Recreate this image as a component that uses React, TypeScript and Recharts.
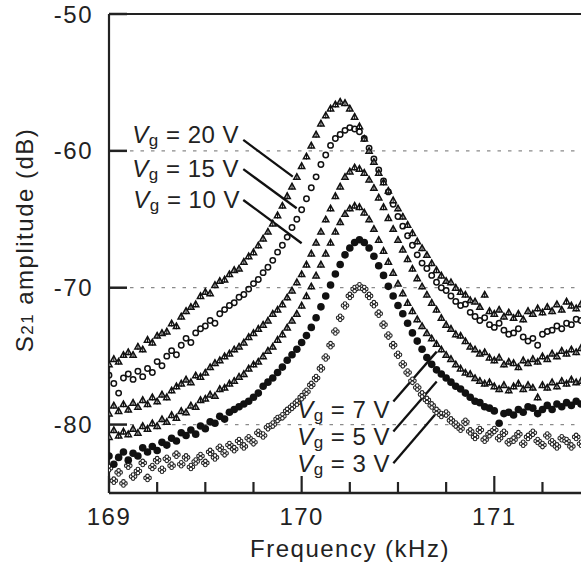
import React from 'react';
import {
  ScatterChart,
  Scatter,
  XAxis,
  YAxis,
  CartesianGrid,
  ReferenceLine,
  ReferenceDot,
  Label,
} from 'recharts';

// sweep frequencies (kHz)
const FREQ = [
  169.0, 169.025, 169.05, 169.075, 169.1, 169.125, 169.15, 169.175, 169.2, 169.225,
  169.25, 169.275, 169.3, 169.325, 169.35, 169.375, 169.4, 169.425, 169.45, 169.475,
  169.5, 169.525, 169.55, 169.575, 169.6, 169.625, 169.65, 169.675, 169.7, 169.725,
  169.75, 169.775, 169.8, 169.825, 169.85, 169.875, 169.9, 169.925, 169.95, 169.975,
  170.0, 170.025, 170.05, 170.075, 170.1, 170.125, 170.15, 170.175, 170.2, 170.225,
  170.25, 170.275, 170.3, 170.325, 170.35, 170.375, 170.4, 170.425, 170.45, 170.475,
  170.5, 170.525, 170.55, 170.575, 170.6, 170.625, 170.65, 170.675, 170.7, 170.725,
  170.75, 170.775, 170.8, 170.825, 170.85, 170.875, 170.9, 170.925, 170.95, 170.975,
  171.0, 171.025, 171.05, 171.075, 171.1, 171.125, 171.15, 171.175, 171.2, 171.225,
  171.25, 171.275, 171.3, 171.325, 171.35, 171.375, 171.4, 171.425, 171.45,
];

// S21 amplitude (dB) for each gate voltage
const VG20 = [
  -75.6, -75.2, -75.4, -74.9, -74.7, -74.9, -74.3, -74.5, -73.8, -74.0,
  -73.5, -73.3, -73.2, -72.6, -72.8, -72.1, -71.7, -71.4, -71.2, -70.6,
  -70.3, -70.4, -69.8, -69.5, -69.4, -69.0, -68.7, -68.6, -68.1, -67.7,
  -67.4, -66.9, -66.4, -65.9, -65.3, -64.7, -64.0, -63.3, -62.6, -61.9,
  -61.1, -60.4, -59.6, -58.8, -58.0, -57.4, -56.9, -56.6, -56.4, -56.5,
  -56.9, -57.5, -58.2, -59.1, -60.0, -60.8, -61.6, -62.3, -62.9, -63.6,
  -64.2, -64.8, -65.4, -66.0, -66.6, -67.1, -67.6, -68.2, -68.7, -69.1,
  -69.5, -69.6, -70.0, -70.3, -70.5, -70.9, -71.0, -71.4, -70.5, -71.7,
  -71.9, -71.6, -72.1, -71.8, -72.2, -71.9, -72.3, -71.7, -71.9, -71.5,
  -71.8, -71.4, -71.7, -71.2, -71.6, -71.0, -71.3, -71.5, -71.2,
];
const VG15 = [
  -76.4, -77.0, -77.7, -76.6, -76.3, -76.7, -76.1, -76.5, -75.9, -76.2,
  -75.4, -75.7, -75.0, -74.6, -74.9, -74.2, -73.7, -74.0, -73.3, -73.0,
  -72.8, -72.4, -72.6, -71.9, -71.6, -71.3, -71.1, -70.7, -70.5, -70.1,
  -69.7, -69.4, -68.9, -68.5, -68.0, -67.4, -66.9, -66.3, -65.6, -65.0,
  -64.3, -63.5, -62.7, -61.9, -61.0, -60.3, -59.6, -59.1, -58.8, -58.5,
  -58.3, -58.4, -58.6, -59.1, -59.8, -60.6, -61.4, -62.2, -63.0, -63.9,
  -64.8, -65.5, -66.2, -66.9, -67.6, -68.2, -68.6, -69.1, -69.6, -70.0,
  -70.2, -70.6, -71.0, -71.3, -71.2, -71.8, -72.1, -72.4, -72.2, -72.7,
  -72.9, -72.6, -73.1, -73.4, -73.3, -73.0, -73.6, -73.9, -73.7, -74.2,
  -73.4, -73.2, -73.1, -72.8, -73.0, -72.6, -72.7, -72.3, -72.4,
];
const VG10 = [
  -79.2, -78.6, -79.0, -78.5, -78.9, -78.4, -78.7, -78.2, -78.5, -78.0,
  -78.3, -77.8, -78.0, -77.5, -77.2, -77.0, -76.7, -76.9, -76.4, -76.5,
  -76.2, -75.8, -75.5, -75.3, -75.0, -74.8, -74.5, -74.3, -74.0, -73.6,
  -73.3, -73.0, -72.7, -72.4, -71.9, -71.6, -71.2, -70.7, -70.2, -69.6,
  -69.0, -68.3, -67.5, -66.7, -65.9, -65.0, -64.2, -63.3, -62.6, -61.9,
  -61.5, -61.2, -61.3, -61.6, -62.1, -62.7, -63.4, -64.1, -64.9, -65.7,
  -66.5, -67.2, -67.9, -68.6, -69.3, -69.9, -70.5, -71.1, -71.6, -72.2,
  -72.7, -73.0, -73.4, -73.5, -73.9, -74.3, -74.5, -74.8, -74.7, -75.1,
  -75.3, -75.1, -75.6, -75.4, -75.5, -75.8, -75.3, -75.5, -75.2, -75.4,
  -75.0, -75.2, -74.8, -75.0, -74.6, -74.8, -74.5, -74.7, -74.4,
];
const VG7 = [
  -80.9, -80.4, -80.8, -80.5, -80.7, -80.3, -80.6, -80.1, -80.3, -79.9,
  -80.1, -79.6, -79.8, -79.3, -79.5, -79.0, -79.1, -78.6, -78.7, -78.2,
  -78.1, -77.8, -77.9, -77.4, -77.3, -77.0, -76.8, -76.5, -76.3, -75.9,
  -75.6, -75.4, -75.0, -74.6, -74.3, -73.8, -73.4, -72.9, -72.4, -71.9,
  -71.3, -70.6, -69.9, -69.1, -68.3, -67.5, -66.7, -65.9, -65.2, -64.6,
  -64.2, -64.0, -64.1, -64.5, -65.0, -65.7, -66.5, -67.3, -68.1, -68.9,
  -69.7, -70.4, -71.1, -71.7, -72.3, -72.8, -73.3, -73.7, -74.1, -74.5,
  -74.9, -75.2, -75.6, -75.9, -76.2, -76.3, -76.6, -76.8, -77.0, -76.9,
  -77.2, -77.4, -77.1, -77.5, -77.2, -77.0, -77.4, -77.1, -77.3, -78.0,
  -77.1, -77.3, -76.9, -77.2, -76.8, -77.0, -76.7, -76.9, -76.8,
];
const VG5 = [
  -82.3, -82.9, -82.4, -82.0, -82.6, -82.1, -82.3, -81.7, -82.0, -81.6,
  -81.9, -81.3, -81.5, -81.0, -81.2, -80.6, -80.8, -80.4, -80.7, -80.1,
  -80.3, -79.8, -79.9, -79.4, -79.6, -79.1, -78.9, -78.7, -78.5, -78.3,
  -78.0, -77.7, -77.2, -76.9, -76.6, -76.2, -75.8, -75.3, -74.9, -74.5,
  -74.0, -73.5, -72.9, -72.2, -71.4, -70.6, -69.8, -69.0, -68.3, -67.6,
  -67.1, -66.7, -66.5, -66.7, -67.1, -67.7, -68.4, -69.1, -69.9, -70.6,
  -71.3, -71.9, -72.6, -73.3, -73.9, -74.5, -75.1, -75.6, -76.0, -76.3,
  -76.6, -76.9, -77.2, -77.4, -77.7, -78.0, -78.3, -78.4, -78.7, -78.8,
  -79.0, -79.9, -79.2, -79.1, -79.3, -78.9, -79.1, -78.7, -78.8, -79.2,
  -78.9, -78.6, -78.9, -78.5, -78.7, -78.4, -78.6, -78.3, -78.5,
];
const VG3 = [
  -83.2, -84.1, -83.5, -84.3, -83.0, -83.8, -83.4, -82.8, -83.9, -83.1,
  -82.6, -83.3, -82.5, -83.0, -82.2, -82.9, -82.4, -83.1, -82.7, -82.3,
  -82.8, -82.0, -82.4, -81.7, -82.1, -81.5, -81.8, -81.2, -81.6, -81.0,
  -81.3, -80.6, -80.8, -80.2, -80.0, -79.6, -79.4, -79.0, -78.7, -78.4,
  -78.0, -77.6, -77.1, -76.6, -75.9, -75.1, -74.2, -73.2, -72.2, -71.3,
  -70.6, -70.1, -69.9, -70.1, -70.6, -71.2, -71.9, -72.7, -73.5, -74.2,
  -74.9, -75.6, -76.2, -76.8, -77.3, -77.8, -78.2, -78.6, -79.0, -79.3,
  -79.2, -79.7, -80.0, -80.3, -79.8, -80.5, -80.9, -80.4, -81.1, -80.7,
  -80.4, -81.0, -80.6, -81.3, -81.1, -80.7, -81.4, -80.9, -80.6, -81.2,
  -81.5, -80.8, -81.3, -81.6, -81.0, -81.2, -81.6, -80.9, -81.4,
];

const X_TICKS = [169, 169.25, 169.5, 169.75, 170, 170.25, 170.5, 170.75, 171, 171.25];
const X_MAJOR = [169, 170, 171];
const Y_TICKS = [-80, -70, -60, -50];

// annotation: label text anchor point + leader line, in data units
const NOTES = [
  { volts: '20', tx: 169.675, ty: -59.45, x1: 169.697, y1: -59.2, x2: 169.954, y2: -61.88 },
  { volts: '15', tx: 169.675, ty: -61.9, x1: 169.697, y1: -61.34, x2: 169.974, y2: -64.19 },
  { volts: '10', tx: 169.68, ty: -64.2, x1: 169.697, y1: -63.59, x2: 170.0, y2: -66.75 },
  { volts: '7', tx: 170.459, ty: -79.53, x1: 170.476, y1: -78.32, x2: 170.701, y2: -74.67 },
  { volts: '5', tx: 170.459, ty: -81.48, x1: 170.476, y1: -80.51, x2: 170.701, y2: -76.86 },
  { volts: '3', tx: 170.459, ty: -83.43, x1: 170.476, y1: -82.82, x2: 170.692, y2: -79.29 },
];

const INK = '#222';
const FONT = '"Liberation Sans", Arial, Helvetica, sans-serif';

const toPoints = (vals: number[]) => FREQ.map((f, i) => ({ f, v: vals[i] }));

// marker shapes
const Tri = ({ cx, cy }: any) => (
  <g>
    <path
      d={`M${cx - 3.1},${cy + 2.5} L${cx},${cy - 3.1} L${cx + 3.1},${cy + 2.5} Z`}
      fill="#fff"
      stroke="#111"
      strokeWidth={1.5}
    />
    <line x1={cx} x2={cx} y1={cy - 3.2} y2={cy + 3.2} stroke="#111" strokeWidth={1.1} />
  </g>
);

const Ring = ({ cx, cy }: any) => (
  <circle cx={cx} cy={cy} r={2.7} fill="none" stroke="#111" strokeWidth={1.5} />
);

const Dot = ({ cx, cy }: any) => <circle cx={cx} cy={cy} r={3.8} fill="#111" />;

const Clover = ({ cx, cy }: any) => (
  <g fill="#fff" stroke="#222" strokeWidth={1.1}>
    <circle cx={cx - 2} cy={cy} r={1.8} />
    <circle cx={cx + 2} cy={cy} r={1.8} />
    <circle cx={cx} cy={cy - 2} r={1.8} />
    <circle cx={cx} cy={cy + 2} r={1.8} />
  </g>
);

const XTick = ({ x, y, payload }: any) => {
  const major = X_MAJOR.includes(payload.value);
  return (
    <g>
      <line x1={x} x2={x} y1={y} y2={y - (major ? 17 : 11)} stroke={INK} strokeWidth={2.2} />
      {major && (
        <text
          x={x}
          y={y + 32}
          textAnchor="middle"
          fontFamily={FONT}
          fontSize={24}
          letterSpacing={1.5}
          fill={INK}
        >
          {payload.value}
        </text>
      )}
    </g>
  );
};

const YTick = ({ x, y, payload }: any) => (
  <g>
    <line x1={x} x2={x + 18} y1={y} y2={y} stroke={INK} strokeWidth={2.5} />
    <text
      x={x - 16}
      y={y}
      dy="0.36em"
      textAnchor="end"
      fontFamily={FONT}
      fontSize={24}
      letterSpacing={1.5}
      fill={INK}
    >
      {payload.value}
    </text>
  </g>
);

const noteLabel = (volts: string) => (props: any) => {
  const vb = props.viewBox || {};
  const x = (vb.x ?? 0) + (vb.width ?? 0) / 2;
  const y = (vb.y ?? 0) + (vb.height ?? 0) / 2;
  return (
    <text x={x} y={y} textAnchor="end" fontFamily={FONT} fontSize={24} letterSpacing={0.5} fill={INK}>
      <tspan fontStyle="italic">V</tspan>
      <tspan fontSize={17} dy={3}>g</tspan>
      <tspan dy={-3}>{` = ${volts} V`}</tspan>
    </text>
  );
};

export default function App() {
  return (
    <div style={{ position: 'absolute', left: 0, top: 0, background: '#fff' }}>
      <ScatterChart width={581} height={564} margin={{ top: 14, right: 0, bottom: 0, left: 0 }}>
        <CartesianGrid
          horizontal
          vertical={false}
          stroke="#8a8a8a"
          strokeWidth={1.2}
          strokeDasharray="3.5 7"
        />
        <XAxis
          type="number"
          dataKey="f"
          domain={[169, 171.45]}
          allowDataOverflow
          ticks={X_TICKS}
          tick={<XTick />}
          tickSize={0}
          tickMargin={0}
          height={71}
          axisLine={{ stroke: INK, strokeWidth: 2.5 }}
        >
          <Label
            content={() => (
              <text
                x={350}
                y={557}
                textAnchor="middle"
                fontFamily={FONT}
                fontSize={24}
                letterSpacing={1.5}
                fill={INK}
              >
                Frequency (kHz)
              </text>
            )}
          />
        </XAxis>
        <YAxis
          type="number"
          dataKey="v"
          domain={[-85, -50]}
          allowDataOverflow
          ticks={Y_TICKS}
          tick={<YTick />}
          tickSize={0}
          tickMargin={0}
          width={109}
          axisLine={{ stroke: INK, strokeWidth: 2.2 }}
        >
          <Label
            content={() => (
              <text
                x={33}
                y={240}
                transform="rotate(-90 33 240)"
                textAnchor="middle"
                fontFamily={FONT}
                fontSize={24}
                letterSpacing={1.5}
                fill={INK}
              >
                S<tspan fontSize={17}>21</tspan> amplitude (dB)
              </text>
            )}
          />
        </YAxis>
        <ReferenceLine y={-50} stroke={INK} strokeWidth={2.2} />

        <Scatter data={toPoints(VG3)} shape={<Clover />} isAnimationActive={false} />
        <Scatter data={toPoints(VG5)} shape={<Dot />} isAnimationActive={false} />
        <Scatter data={toPoints(VG7)} shape={<Tri />} isAnimationActive={false} />
        <Scatter data={toPoints(VG10)} shape={<Tri />} isAnimationActive={false} />
        <Scatter data={toPoints(VG15)} shape={<Ring />} isAnimationActive={false} />
        <Scatter data={toPoints(VG20)} shape={<Tri />} isAnimationActive={false} />

        {NOTES.map((n) => (
          <ReferenceLine
            key={`line-${n.volts}`}
            segment={[
              { x: n.x1, y: n.y1 },
              { x: n.x2, y: n.y2 },
            ]}
            stroke="#111"
            strokeWidth={2.3}
          />
        ))}
        {NOTES.map((n) => (
          <ReferenceDot
            key={`text-${n.volts}`}
            x={n.tx}
            y={n.ty}
            r={0}
            fill="none"
            stroke="none"
            label={{ content: noteLabel(n.volts) }}
          />
        ))}
      </ScatterChart>
    </div>
  );
}
